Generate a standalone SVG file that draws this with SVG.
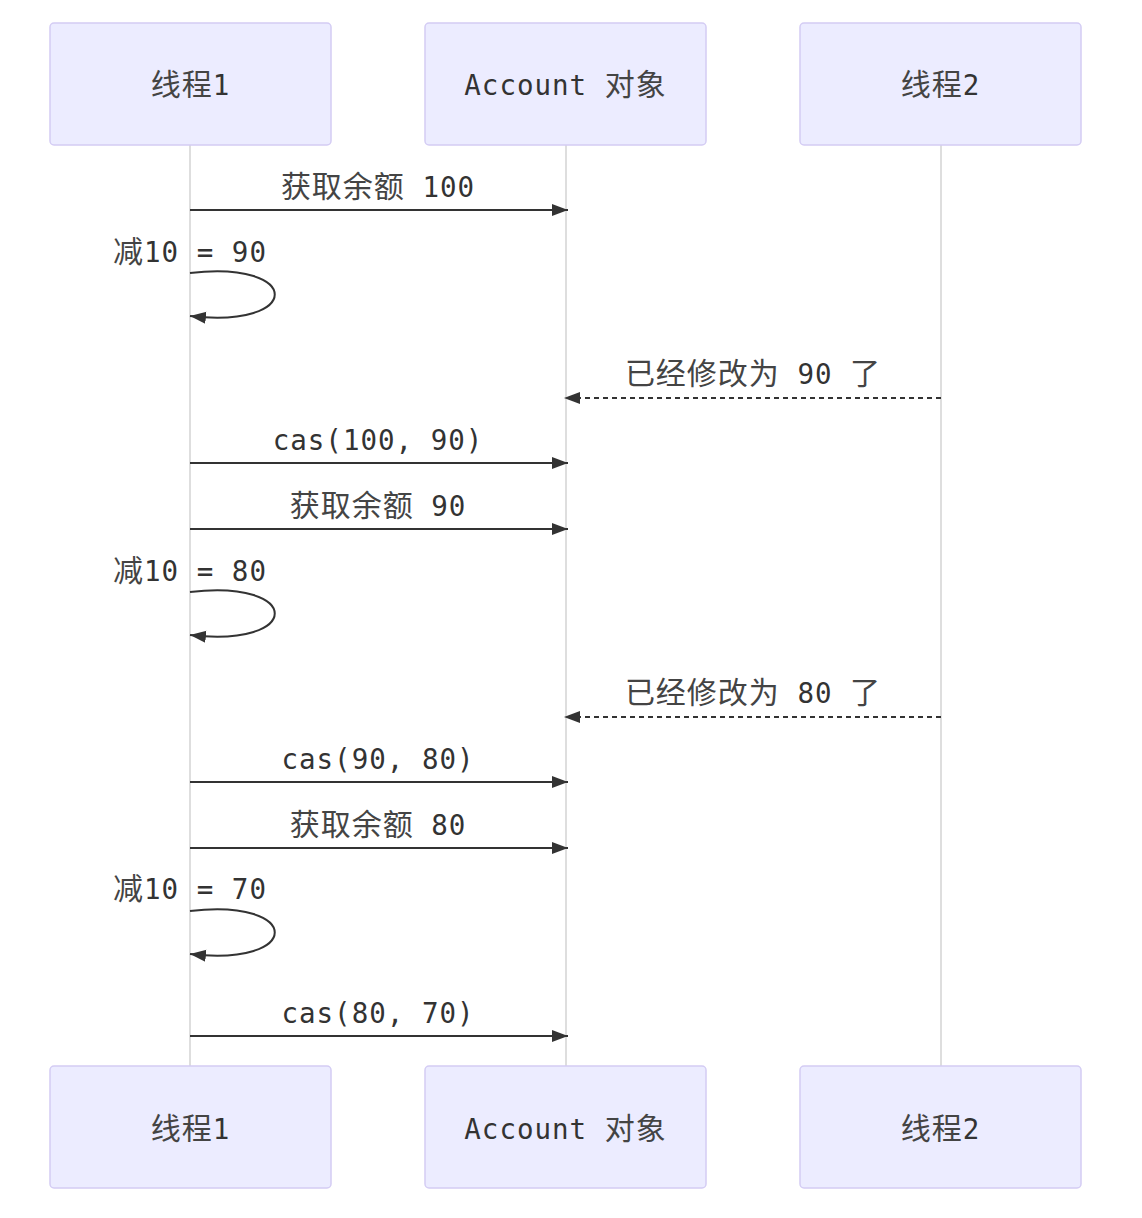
<svg xmlns="http://www.w3.org/2000/svg" width="1142" height="1218" viewBox="0 0 1142 1218">
<style>
.actor{fill:#ECECFF;stroke:#D4CCF4;stroke-width:1.5}
.life{stroke:#D3D3D3;stroke-width:1.5}
.t{font-family:"DejaVu Sans Mono","Noto Sans CJK SC",monospace;font-size:27.5px;fill:#333;text-anchor:middle;letter-spacing:1px}
.c{font-family:"Noto Sans CJK SC",sans-serif;font-size:30px;letter-spacing:1px;fill:#444}
.msg{stroke:#333;stroke-width:2;fill:none}
.dash{stroke-dasharray:5,4}
</style>
<defs>
<marker id="arr" markerUnits="userSpaceOnUse" markerWidth="18" markerHeight="14" refX="16" refY="6" orient="auto">
<path d="M0,0 L16,6 L0,12 z" fill="#333"/>
</marker>
</defs>
<rect width="1142" height="1218" fill="#fff"/>
<g id="lifelines">
<line class="life" x1="190" y1="145" x2="190" y2="1066"/>
<line class="life" x1="566" y1="145" x2="566" y2="1066"/>
<line class="life" x1="941" y1="145" x2="941" y2="1066"/>
</g>
<g id="actor1-top"><rect class="actor" x="50" y="23" width="281" height="122" rx="4"/><text class="t" x="190.5" y="95"><tspan class="c">线程</tspan>1</text></g>
<g id="actor2-top"><rect class="actor" x="425" y="23" width="281" height="122" rx="4"/><text class="t" x="565.5" y="95">Account <tspan class="c">对象</tspan></text></g>
<g id="actor3-top"><rect class="actor" x="800" y="23" width="281" height="122" rx="4"/><text class="t" x="940.5" y="95"><tspan class="c">线程</tspan>2</text></g>
<g id="actor1-bottom"><rect class="actor" x="50" y="1066" width="281" height="122" rx="4"/><text class="t" x="190.5" y="1139"><tspan class="c">线程</tspan>1</text></g>
<g id="actor2-bottom"><rect class="actor" x="425" y="1066" width="281" height="122" rx="4"/><text class="t" x="565.5" y="1139">Account <tspan class="c">对象</tspan></text></g>
<g id="actor3-bottom"><rect class="actor" x="800" y="1066" width="281" height="122" rx="4"/><text class="t" x="940.5" y="1139"><tspan class="c">线程</tspan>2</text></g>
<g id="connectors">
<line class="msg" x1="190" y1="210" x2="568" y2="210" marker-end="url(#arr)"/>
<path class="msg" d="M190,273 C303,260 303,329 190,316" marker-end="url(#arr)"/>
<line class="msg dash" x1="941" y1="398" x2="564" y2="398" marker-end="url(#arr)"/>
<line class="msg" x1="190" y1="463" x2="568" y2="463" marker-end="url(#arr)"/>
<line class="msg" x1="190" y1="529" x2="568" y2="529" marker-end="url(#arr)"/>
<path class="msg" d="M190,592 C303,579 303,648 190,635" marker-end="url(#arr)"/>
<line class="msg dash" x1="941" y1="717" x2="564" y2="717" marker-end="url(#arr)"/>
<line class="msg" x1="190" y1="782" x2="568" y2="782" marker-end="url(#arr)"/>
<line class="msg" x1="190" y1="848" x2="568" y2="848" marker-end="url(#arr)"/>
<path class="msg" d="M190,911 C303,898 303,967 190,954" marker-end="url(#arr)"/>
<line class="msg" x1="190" y1="1036" x2="568" y2="1036" marker-end="url(#arr)"/>
</g>
<g id="labels">
<text class="t" x="378" y="197"><tspan class="c">获取余额</tspan> 100</text>
<text class="t" x="190" y="262"><tspan class="c">减</tspan>10 = 90</text>
<text class="t" x="753" y="384"><tspan class="c">已经修改为</tspan> 90 <tspan class="c">了</tspan></text>
<text class="t" x="378" y="450">cas(100, 90)</text>
<text class="t" x="378" y="516"><tspan class="c">获取余额</tspan> 90</text>
<text class="t" x="190" y="581"><tspan class="c">减</tspan>10 = 80</text>
<text class="t" x="753" y="703"><tspan class="c">已经修改为</tspan> 80 <tspan class="c">了</tspan></text>
<text class="t" x="378" y="769">cas(90, 80)</text>
<text class="t" x="378" y="835"><tspan class="c">获取余额</tspan> 80</text>
<text class="t" x="190" y="899"><tspan class="c">减</tspan>10 = 70</text>
<text class="t" x="378" y="1023">cas(80, 70)</text>
</g>
</svg>
